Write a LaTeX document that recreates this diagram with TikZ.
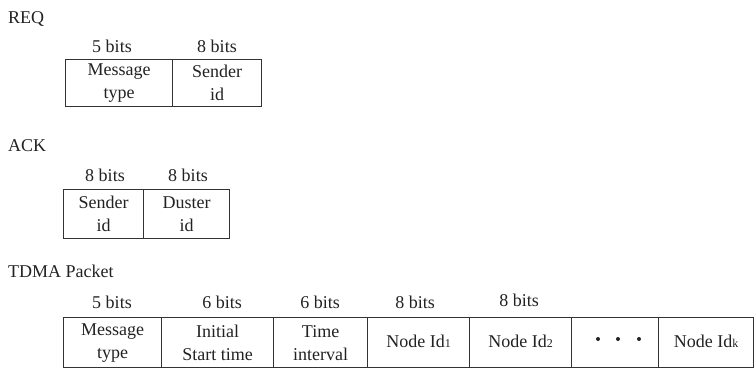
\documentclass[tikz,border=0pt]{standalone}
\usepackage{fontspec}
\setmainfont{Liberation Serif}
\definecolor{ink}{HTML}{222222}
\definecolor{edge}{HTML}{333333}
\newcommand{\smsub}[1]{{\fontsize{12}{12}\selectfont #1}}
\tikzset{
  cell/.style={draw=edge, line width=1.3pt, inner sep=0pt, anchor=north west, align=center, text=ink,
    font=\fontsize{18}{23}\selectfont},
  bitlbl/.style={anchor=base, inner sep=0pt, text=ink, font=\fontsize{18}{22}\selectfont},
  title/.style={anchor=base west, inner sep=0pt, text=ink, font=\fontsize{18}{22}\selectfont}
}
\begin{document}
\begin{tikzpicture}[x=1pt,y=-1pt]
\useasboundingbox (0,0) rectangle (754,368);
% REQ
\node[title] (treq) at (8,23) {REQ};
\node[bitlbl] (lr1) at (112,52) {5 bits};
\node[bitlbl] (lr2) at (217,52) {8 bits};
\node[cell, minimum width=107pt, minimum height=47pt] (r1) at (65,59) {Message\\type};
\node[cell, minimum width=89pt, minimum height=47pt] (r2) at (172,59) {Sender\\id};
% ACK
\node[title] (tack) at (8,151) {ACK};
\node[bitlbl] (la1) at (105,181) {8 bits};
\node[bitlbl] (la2) at (188,181) {8 bits};
\node[cell, minimum width=80pt, minimum height=49pt] (a1) at (63,189) {Sender\\id};
\node[cell, minimum width=86pt, minimum height=49pt] (a2) at (143,189) {Duster\\id};
% TDMA
\node[title] (ttdma) at (8,277) {TDMA Packet};
\node[bitlbl] (lt1) at (112,308) {5 bits};
\node[bitlbl] (lt2) at (222,308) {6 bits};
\node[bitlbl] (lt3) at (320,308) {6 bits};
\node[bitlbl] (lt4) at (415,308) {8 bits};
\node[bitlbl] (lt5) at (519,306) {8 bits};
\node[cell, minimum width=98pt, minimum height=50pt] (t1) at (63,317) {Message\\type};
\node[cell, minimum width=112pt, minimum height=50pt] (t2) at (161,317) {Initial\\Start time};
\node[cell, minimum width=94pt, minimum height=50pt] (t3) at (273,317) {Time\\interval};
\node[cell, minimum width=102pt, minimum height=50pt] (t4) at (367,317) {\raisebox{3pt}{Node Id\smsub{1}}};
\node[cell, minimum width=102pt, minimum height=50pt] (t5) at (469,317) {\raisebox{3pt}{Node Id\smsub{2}}};
\node[cell, minimum width=87pt, minimum height=50pt] (t6) at (571,317) {};
\node[cell, minimum width=95pt, minimum height=50pt] (t7) at (658,317) {\raisebox{3pt}{Node Id\smsub{k}}};
\fill[ink] (598,339) circle (2pt);
\fill[ink] (618,339) circle (2pt);
\fill[ink] (639,339) circle (2pt);
\end{tikzpicture}
\end{document}
